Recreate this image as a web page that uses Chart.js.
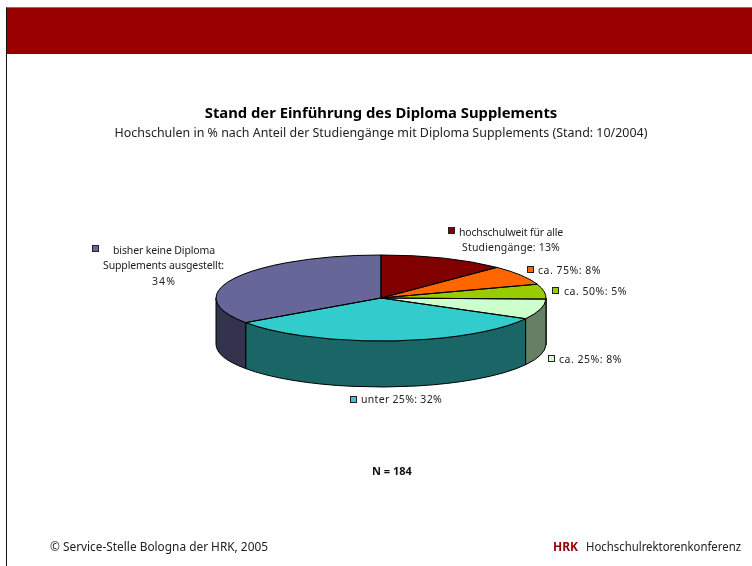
<!DOCTYPE html>
<html lang="de">
<head>
<meta charset="utf-8">
<title>Stand der Einführung des Diploma Supplements</title>
<script src="https://cdn.jsdelivr.net/npm/chart.js@4"></script>
<style>
  html, body { margin: 0; padding: 0; background: #fff; width: 752px; height: 566px; overflow: hidden; }
  #frame { position: absolute; left: 6px; top: 7px; width: 746px; height: 559px; border-left: 1px solid #111; border-top: 1px solid #777; box-sizing: border-box; }
  #banner { position: absolute; left: 7px; top: 8px; width: 745px; height: 46px; background: #990000; }
  #chart { position: absolute; left: 5px; top: 0; }
</style>
</head>
<body>
<div id="frame"></div>
<div id="banner"></div>
<canvas id="chart" width="752" height="566"></canvas>
<script>
// ======= DATA =======
const categories = [
  "hochschulweit für alle\nStudiengänge",
  "ca. 75%",
  "ca. 50%",
  "ca. 25%",
  "unter 25%",
  "bisher keine Diploma\nSupplements ausgestellt",
];
// printed percentages
const percentLabels = [13, 8, 5, 8, 32, 34];
// slice sizes as measured on the drawn pie
const sliceShares = [12.4, 7.4, 5.6, 7.6, 32.3, 34.7];
const topColors = ["#800000", "#ff6600", "#99cc00", "#ccffcc", "#33cccc", "#666699"];
const wallColors = ["#400000", "#803300", "#4d6600", "#668066", "#1a6666", "#33334d"];

// ======= LAYOUT =======
const OFFSET_X = 5; // canvas sits on the frame line
const CENTER_Y = 298;
const RADIUS_Y = 43;
const DEPTH = 46;
const FONT = "'Noto Sans', sans-serif";

// square position, then [x, y, width] of each text line
const labelSpots = [
  { box: [448, 227], lines: [[459, 233, 104], [462, 248, 98]] },
  { box: [527, 266], lines: [[538, 271, 63]] },
  { box: [552, 287], lines: [[564, 292, 63]] },
  { box: [548, 355], lines: [[559, 360, 63]] },
  { box: [350, 396], lines: [[361, 400, 81]] },
  { box: [92, 245], lines: [[113, 251, 102], [103, 266, 121], [152, 282, 24]] },
];

// draws a line to an exact width, Noto is not as wide as the original face
function fitText(ctx, text, x, y, width) {
  ctx.letterSpacing = "0px";
  const gap = (width - ctx.measureText(text).width) / text.length;
  ctx.letterSpacing = gap + "px";
  ctx.fillText(text, x, y);
  ctx.letterSpacing = "0px";
}

// Flattens the pie and gives it a side wall, angles come from the arc elements
const tiltPlugin = {
  id: "tilt",
  beforeDatasetsDraw(chart) {
    const ctx = chart.ctx;
    chart.getDatasetMeta(0).data.forEach((arc, i) => {
      const a = Math.max(arc.startAngle, 0);
      const b = Math.min(arc.endAngle, Math.PI);
      if (b <= a) return;
      ctx.beginPath();
      ctx.ellipse(arc.x, CENTER_Y, arc.outerRadius, RADIUS_Y, 0, a, b);
      ctx.ellipse(arc.x, CENTER_Y + DEPTH, arc.outerRadius, RADIUS_Y, 0, b, a, true);
      ctx.closePath();
      ctx.fillStyle = wallColors[i];
      ctx.fill();
      ctx.lineWidth = 1;
      ctx.strokeStyle = "#000";
      ctx.stroke();
    });
  },
  beforeDatasetDraw(chart) {
    const ctx = chart.ctx;
    const arc = chart.getDatasetMeta(0).data[0];
    ctx.save();
    ctx.translate(0, CENTER_Y);
    ctx.scale(1, RADIUS_Y / arc.outerRadius);
    ctx.translate(0, -arc.y);
  },
  afterDatasetDraw(chart) {
    const ctx = chart.ctx;
    ctx.restore();
    chart.getDatasetMeta(0).data.forEach((arc) => {
      ctx.beginPath();
      ctx.moveTo(arc.x, CENTER_Y);
      ctx.ellipse(arc.x, CENTER_Y, arc.outerRadius, RADIUS_Y, 0, arc.startAngle, arc.endAngle);
      ctx.closePath();
      ctx.lineWidth = 1;
      ctx.strokeStyle = "#000";
      ctx.stroke();
    });
  },
};

// Slice labels, the N note and the footer
const textPlugin = {
  id: "texts",
  afterDraw(chart) {
    const ctx = chart.ctx;
    ctx.save();
    ctx.translate(-OFFSET_X, 0);
    ctx.textBaseline = "middle";
    ctx.textAlign = "left";

    categories.forEach((cat, i) => {
      const spot = labelSpots[i];
      ctx.fillStyle = topColors[i];
      ctx.strokeStyle = "#222";
      ctx.lineWidth = 1;
      ctx.fillRect(spot.box[0], spot.box[1], 7, 7);
      ctx.strokeRect(spot.box[0] + 0.5, spot.box[1] + 0.5, 6, 6);

      const lines = (cat + ": " + percentLabels[i] + "%").split("\n");
      // the "34%" sits on its own line in the reference
      if (i === 5) {
        const last = lines.pop().split(" ");
        const pct = last.pop();
        lines.push(last.join(" "), pct);
      }
      ctx.fillStyle = "#222";
      ctx.font = "10.5px " + FONT;
      lines.forEach((t, k) => fitText(ctx, t, spot.lines[k][0], spot.lines[k][1], spot.lines[k][2]));
    });

    ctx.fillStyle = "#111";
    ctx.font = "bold 11px " + FONT;
    ctx.fillText("N = 184", 372, 472, 44);

    ctx.font = "12px " + FONT;
    ctx.fillStyle = "#222";
    ctx.fillText("© Service-Stelle Bologna der HRK, 2005", 50, 548, 218);
    ctx.fillText("Hochschulrektorenkonferenz", 586, 548, 155);
    ctx.font = "bold 12px " + FONT;
    ctx.fillStyle = "#990000";
    ctx.fillText("HRK", 553, 548, 25);
    ctx.restore();
  },
};

new Chart(document.getElementById("chart"), {
  type: "pie",
  data: {
    labels: categories,
    datasets: [{ data: sliceShares, backgroundColor: topColors, borderWidth: 0 }],
  },
  options: {
    responsive: false,
    animation: false,
    radius: 165,
    plugins: {
      legend: { display: false },
      tooltip: { enabled: false },
      title: {
        display: true,
        text: "Stand der Einführung des Diploma Supplements",
        color: "#000",
        font: { family: FONT, size: 14.8, weight: "bold" },
        padding: { top: 105, bottom: 3 },
      },
      subtitle: {
        display: true,
        text: "Hochschulen in % nach Anteil der Studiengänge mit Diploma Supplements (Stand: 10/2004)",
        color: "#222",
        font: { family: FONT, size: 12.45 },
        padding: { bottom: 10 },
      },
    },
  },
  plugins: [tiltPlugin, textPlugin],
});
</script>
</body>
</html>
